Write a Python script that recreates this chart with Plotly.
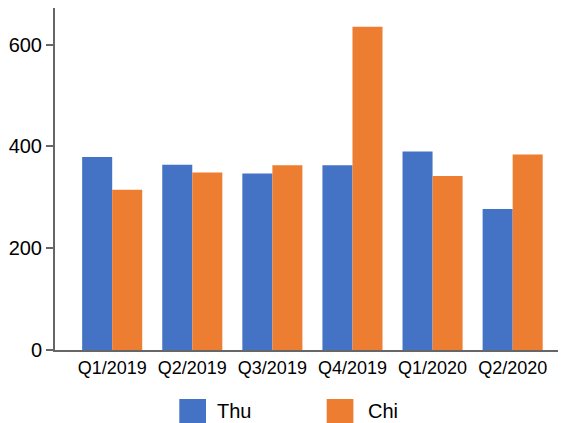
import plotly.graph_objects as go

categories = ["Q1/2019", "Q2/2019", "Q3/2019", "Q4/2019", "Q1/2020", "Q2/2020"]
thu = [379, 364, 347, 363, 390, 277]
chi = [315, 349, 363, 635, 342, 384]
series_names = ["Thu", "Chi"]
colors = ["#4472C4", "#ED7D31"]
y_ticks = [0, 200, 400, 600]

FONT = "Liberation Sans, Arial, sans-serif"
AXIS = "#666666"

fig = go.Figure()
for name, vals, col in zip(series_names, [thu, chi], colors):
    fig.add_trace(go.Bar(x=categories, y=vals, name=name, marker_color=col,
                         marker_line_width=0, showlegend=False))

OFF = 8  # page body margin
W, H = 566 - OFF, 423 - OFF
L, R, T, B = 55 - OFF, 0, 8 - OFF, 73
pw, ph = W - L - R, H - T - B

def px(x):  # page pixel -> paper
    return (x - OFF - L) / pw

def py(y):
    return (H - B - (y - OFF)) / ph

# custom legend (large swatches like the reference)
legend_x = [179.3, 326.7]
text_x = [216, 366.7]
for i, name in enumerate(series_names):
    fig.add_shape(type="rect", xref="paper", yref="paper",
                  x0=px(legend_x[i]), x1=px(legend_x[i] + 26.7),
                  y0=py(426), y1=py(399), fillcolor=colors[i], line_width=0)
    fig.add_annotation(xref="paper", yref="paper", x=px(text_x[i]), y=py(411),
                       text=name, showarrow=False, xanchor="left", yanchor="middle",
                       font=dict(family=FONT, size=20, color="#000000"), borderpad=0)

fig.update_layout(
    width=W, height=H,
    margin=dict(l=L, r=R, t=T, b=B, pad=0),
    paper_bgcolor="white", plot_bgcolor="white",
    barmode="group", bargap=0.25, bargroupgap=0,
    font=dict(family=FONT, color="#000000"),
)
fig.update_xaxes(range=[-0.714, 5.666], showline=True, linecolor=AXIS, linewidth=2,
                 ticks="", showgrid=False, zeroline=False,
                 tickfont=dict(family=FONT, size=18, color="#000000"))
fig.update_yaxes(range=[0, 672], tickvals=y_ticks, showline=True, linecolor=AXIS, linewidth=2,
                 ticks="outside", ticklen=7, tickwidth=2, tickcolor=AXIS,
                 showgrid=False, zeroline=False,
                 tickfont=dict(family=FONT, size=20, color="#000000"))

fig.write_html("out.html")
